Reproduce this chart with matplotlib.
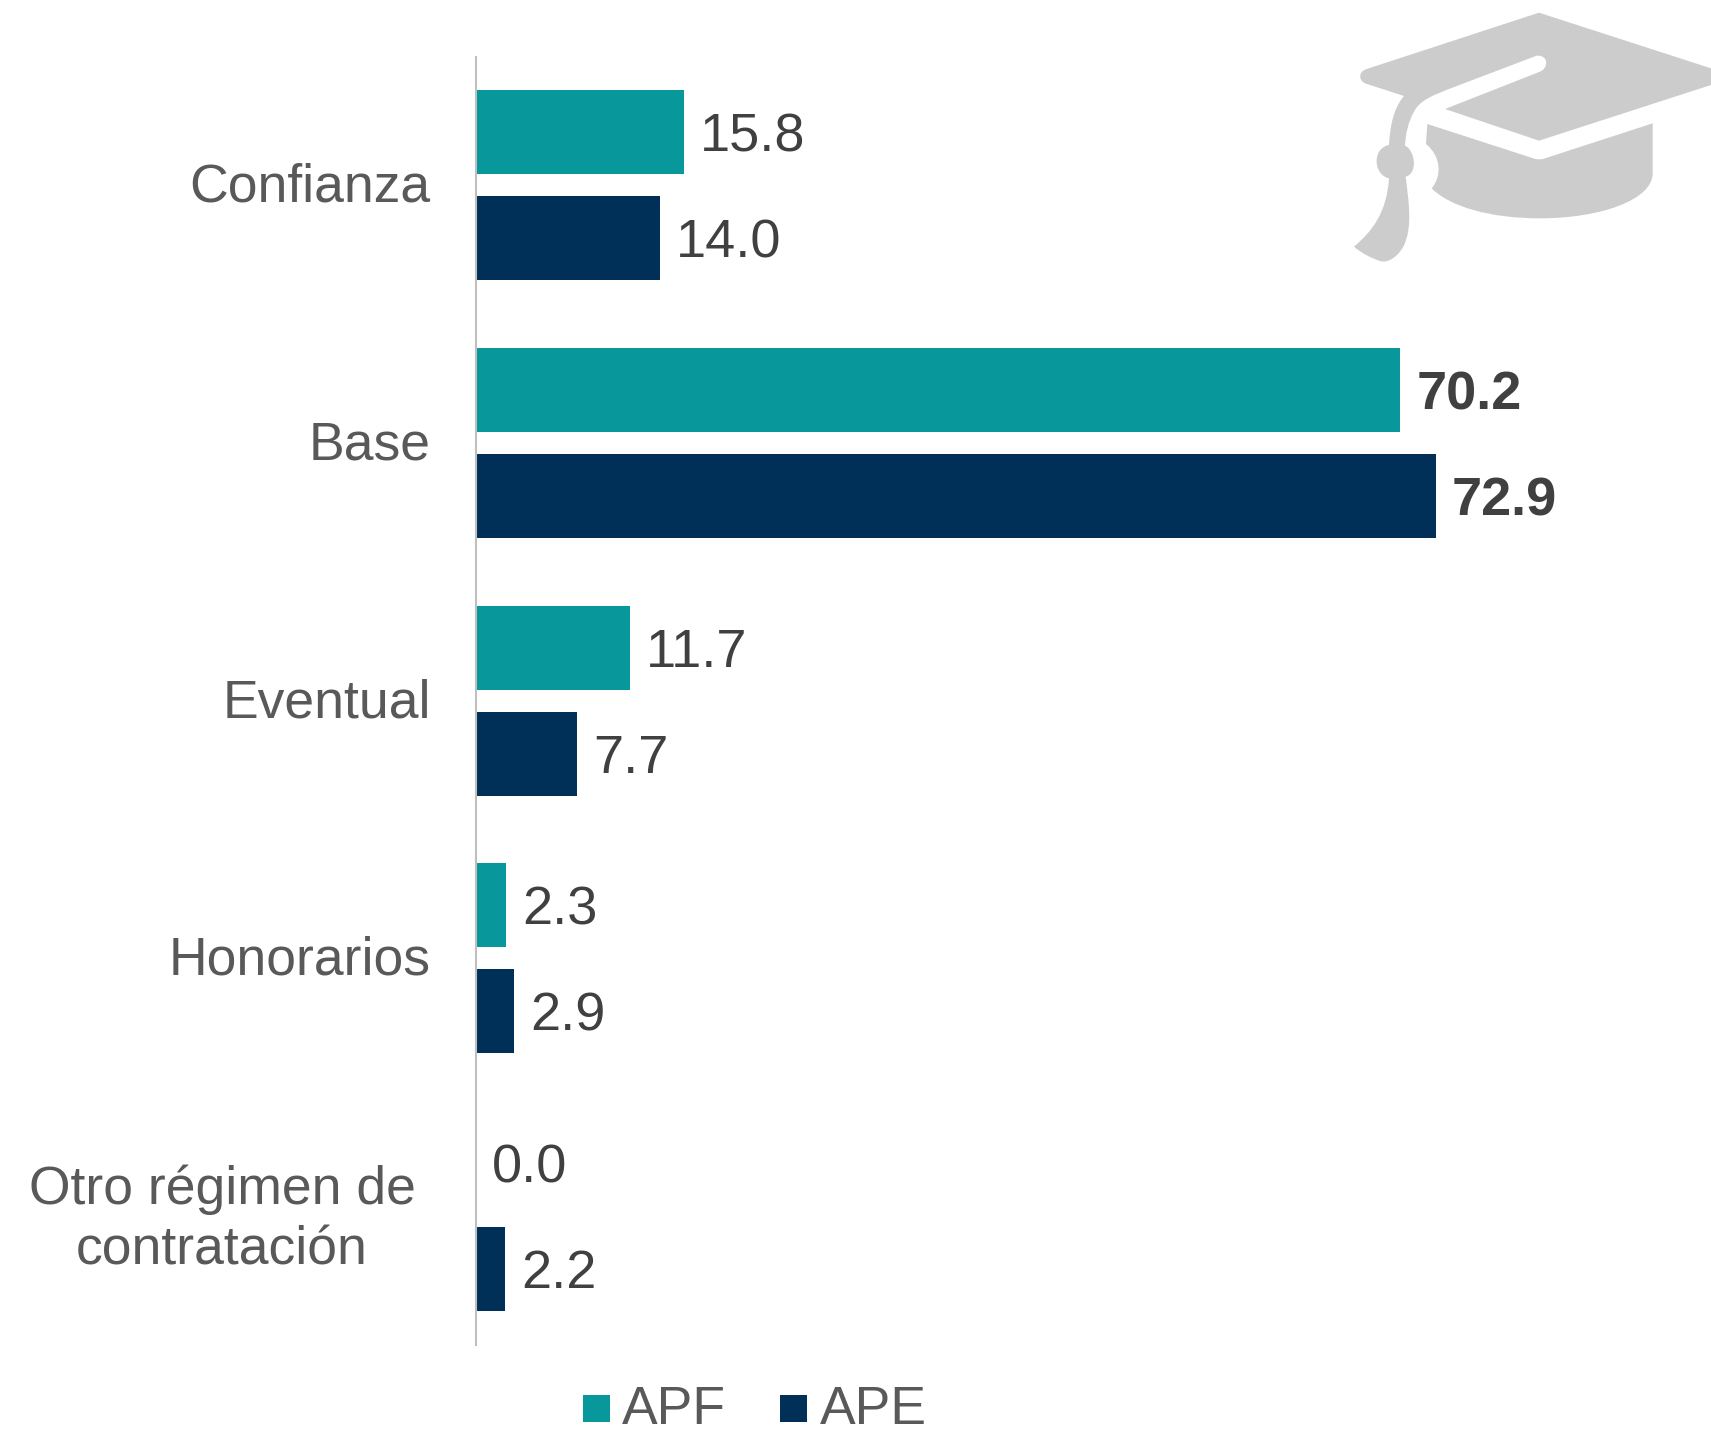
import matplotlib
matplotlib.use("Agg")
import matplotlib.pyplot as plt
from matplotlib.patches import PathPatch
from matplotlib.path import Path
from matplotlib.transforms import ScaledTranslation

categories = ["Confianza", "Base", "Eventual", "Honorarios", "Otro régimen de\ncontratación"]
apf = [15.8, 70.2, 11.7, 2.3, 0.0]
ape = [14.0, 72.9, 7.7, 2.9, 2.2]
series_names = ["APF", "APE"]
bold_category = "Base"

W, H = 1711, 1430
TEAL = "#08989C"
NAVY = "#002F58"
TEXT = "#404040"
LABEL = "#595959"
GREY = "#CCCCCC"

plt.rcParams["font.family"] = ["Liberation Sans", "DejaVu Sans"]


def build_path(segments, ox=1340, oy=0, scale=1 / 3):
    # segments are in the pixels of a 3x crop of the icon
    verts, codes = [], []
    for seg in segments:
        if len(seg) == 1:
            verts.append(seg[0])
            codes.append(Path.LINETO if verts[:-1] else Path.MOVETO)
        else:
            verts.extend(seg)
            codes.extend([Path.CURVE4] * 3)
    verts.append(verts[0])
    codes.append(Path.CLOSEPOLY)
    return Path([(ox + x * scale, oy + y * scale) for x, y in verts], codes)


fig = plt.figure(figsize=(W / 100, H / 100), dpi=100)

# axes box in pixels: left spine x=476, top y=56.5, bottom y=1344.5
x0, y_top, y_bot = 476, 56.5, 1344.5
ax_w = W - x0
ax = fig.add_axes([x0 / W, 1 - y_bot / H, ax_w / W, (y_bot - y_top) / H])
px_per_unit = (1436 - x0) / 72.9
ax.set_xlim(0, ax_w / px_per_unit)
ax.set_ylim(len(categories), 0)

h = 84 / 257.6
gap = 22 / 257.6
for i, cat in enumerate(categories):
    y1 = i + 0.5 - gap / 2 - h / 2
    y2 = i + 0.5 + gap / 2 + h / 2
    ax.barh(y1, apf[i], height=h, color=TEAL)
    ax.barh(y2, ape[i], height=h, color=NAVY)
    weight = "bold" if cat == bold_category else "normal"
    ax.annotate(f"{apf[i]:.1f}", (apf[i], y1), xytext=(11.5, -4), textcoords="offset points",
                va="center", ha="left", fontsize=39, color=TEXT, fontweight=weight)
    ax.annotate(f"{ape[i]:.1f}", (ape[i], y2), xytext=(11.5, -4), textcoords="offset points",
                va="center", ha="left", fontsize=39, color=TEXT, fontweight=weight)

ax.set_yticks([i + 0.5 for i in range(len(categories))])
ax.set_yticklabels(categories, fontsize=38.5, color=LABEL, linespacing=1.27)
ax.tick_params(axis="y", length=0, pad=32.5)
ax.yaxis.get_major_ticks()[-1].set_pad(43.5)
up = ScaledTranslation(0, 3 / 100, fig.dpi_scale_trans)
up_last = ScaledTranslation(0, 6 / 100, fig.dpi_scale_trans)
for lab, cat in zip(ax.get_yticklabels(), categories):
    lab.set_multialignment("center")
    lab.set_transform(lab.get_transform() + (up_last if "\n" in cat else up))
ax.set_xticks([])
for s in ["top", "right", "bottom"]:
    ax.spines[s].set_visible(False)
ax.spines["left"].set_color("#BFBFBF")
ax.spines["left"].set_linewidth(1.5)

# legend drawn in figure pixels
overlay = fig.add_axes([0, 0, 1, 1])
overlay.set_xlim(0, W)
overlay.set_ylim(H, 0)
overlay.axis("off")
overlay.patch.set_alpha(0)
for name, col, sx, tx in zip(series_names, [TEAL, NAVY], [583, 780], [622, 820]):
    overlay.add_patch(plt.Rectangle((sx, 1395), 27, 27, color=col, lw=0))
    overlay.text(tx, 1410, name, fontsize=38.5, color=LABEL, va="center", ha="left")

# graduation cap icon
cap = [
    [(597, 38)], [(1113, 205)], [(1113, 255)], [(597, 422)], [(315, 327)], [(600, 215)],
    [(625, 205), (628, 165), (590, 167)],
    [(340, 262)],
    [(280, 285), (240, 300), (222, 335)],
    [(205, 365), (197, 400), (195, 437)],
    [(225, 450), (235, 520), (197, 530)],
    [(205, 600), (220, 680), (190, 740)],
    [(170, 775), (140, 790), (120, 783)],
    [(95, 775), (65, 760), (42, 740)],
    [(95, 695), (140, 640), (147, 535)],
    [(100, 525), (95, 445), (147, 435)],
    [(150, 380), (160, 325), (192, 288)],
    [(75, 250)],
    [(55, 240), (55, 215), (80, 207)],
]
bowl = [
    [(262, 372)], [(580, 475)],
    [(590, 479), (605, 479), (615, 475)],
    [(938, 370)], [(938, 520)],
    [(938, 600), (780, 655), (600, 655)],
    [(450, 655), (330, 620), (275, 565)],
    [(305, 530), (305, 470), (258, 432)],
]
overlay.add_patch(PathPatch(build_path(cap), fc=GREY, lw=0))
overlay.add_patch(PathPatch(build_path(bowl), fc=GREY, lw=0))

fig.savefig("out.png", dpi=100)
